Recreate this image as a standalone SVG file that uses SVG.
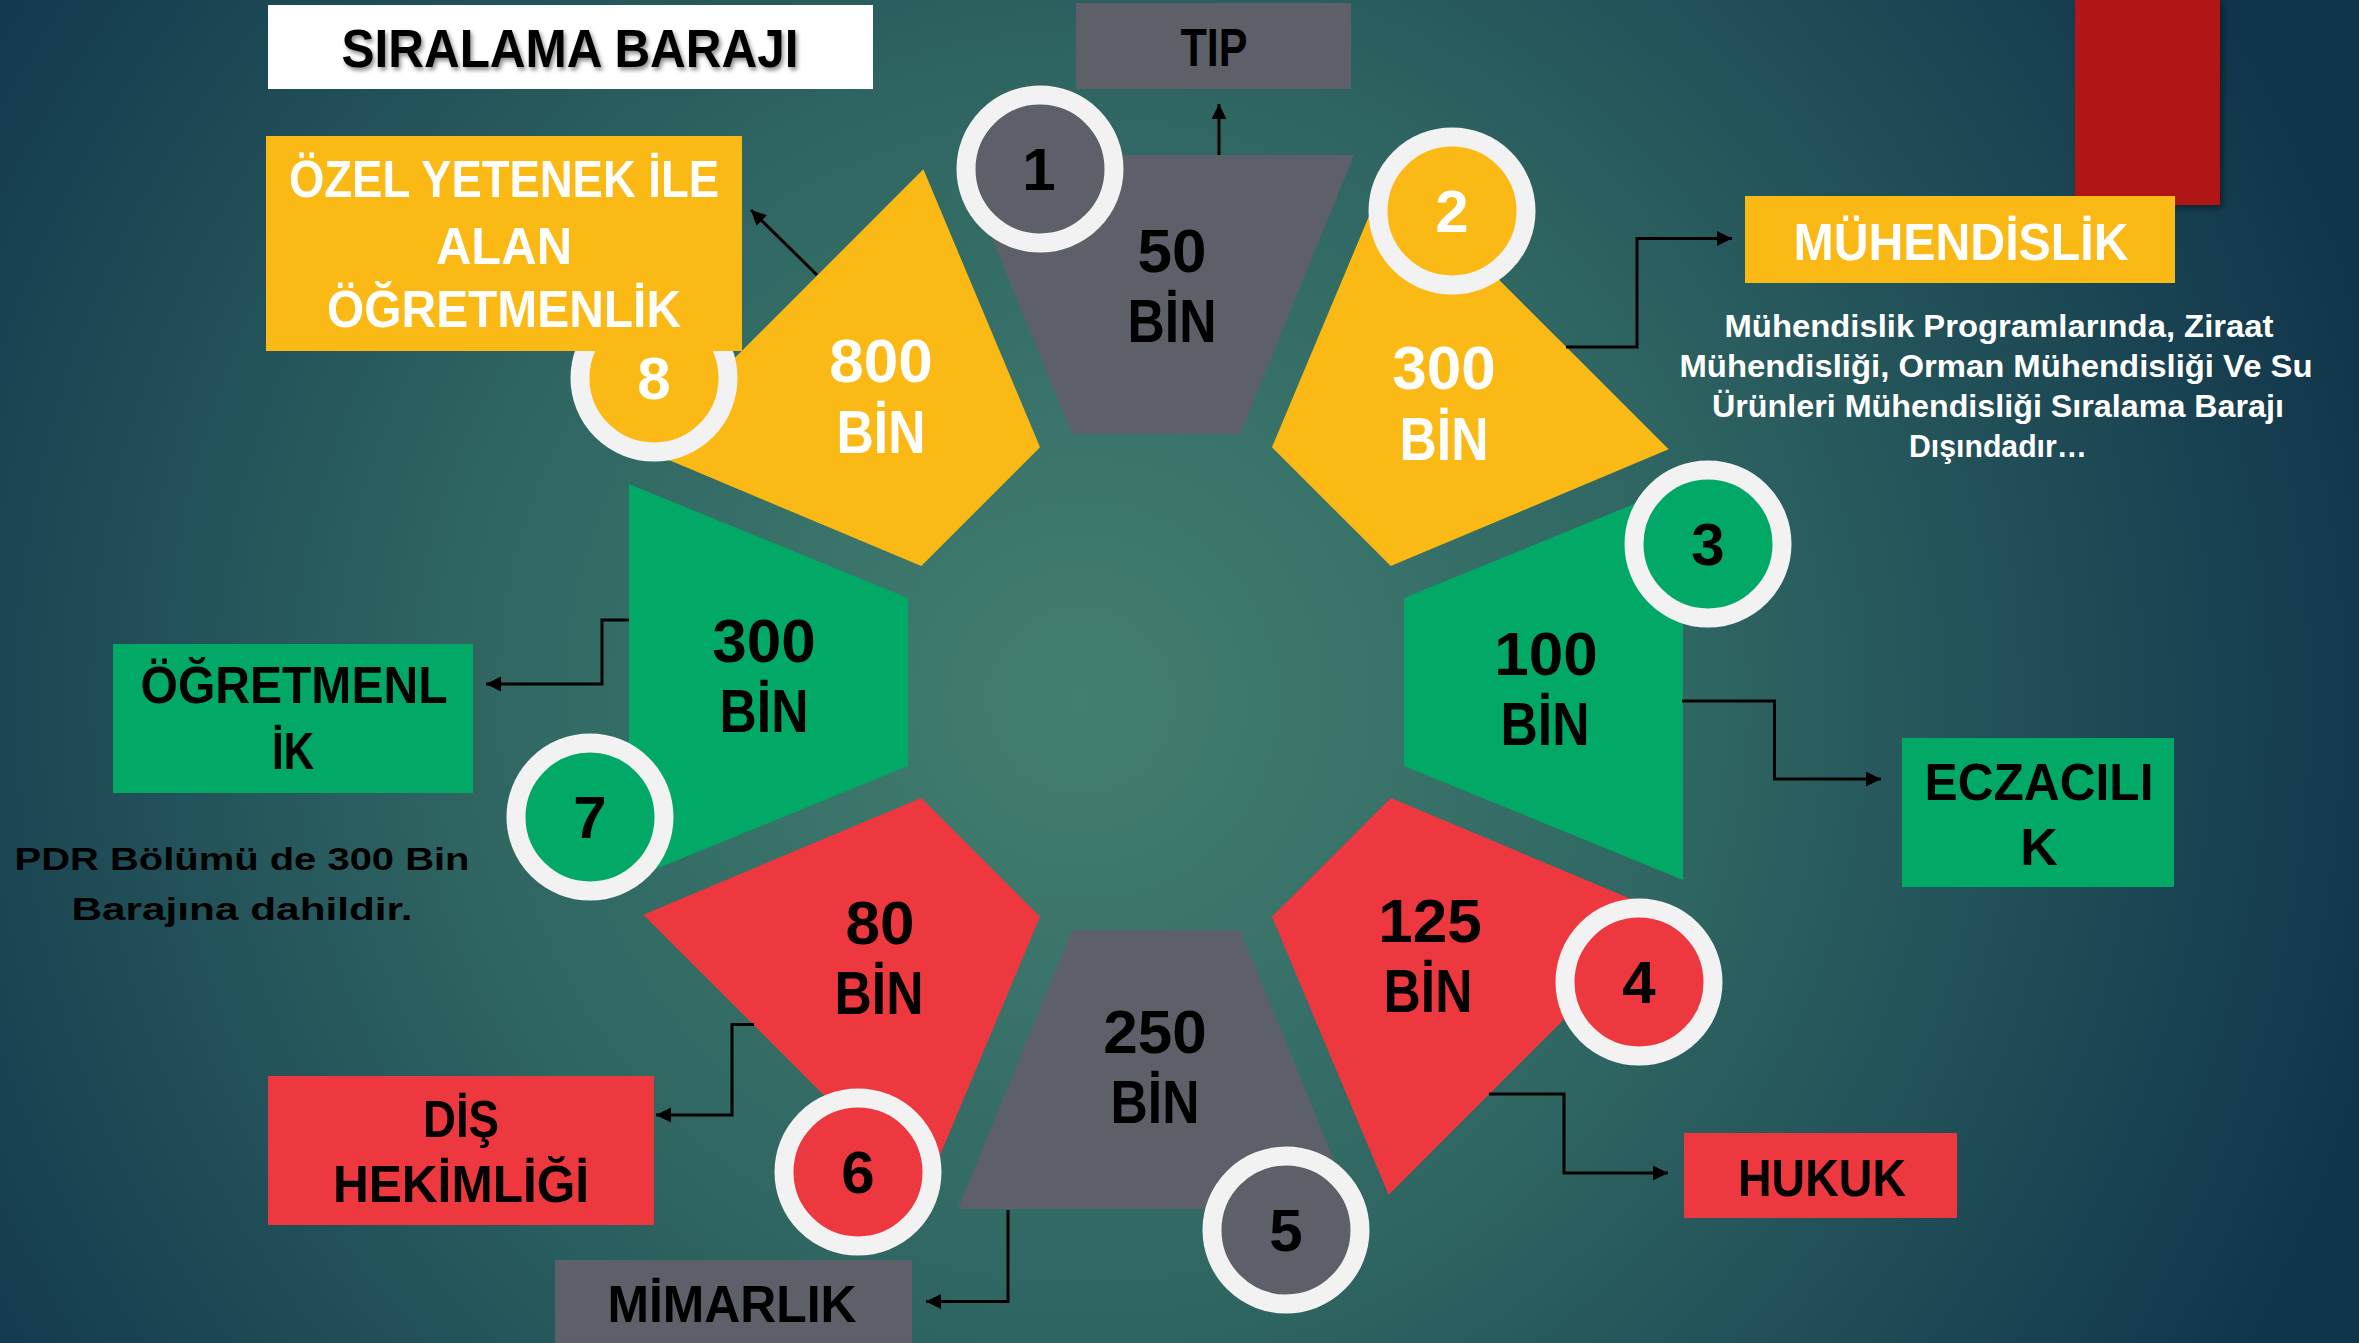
<svg xmlns="http://www.w3.org/2000/svg" width="2359" height="1343" viewBox="0 0 2359 1343">
<defs>
<radialGradient id="bg" gradientUnits="userSpaceOnUse" cx="1080" cy="700" r="1350">
<stop offset="0" stop-color="#437F70"/>
<stop offset="0.45" stop-color="#2F6662"/>
<stop offset="0.75" stop-color="#1E4B56"/>
<stop offset="1" stop-color="#10344A"/>
</radialGradient>
<filter id="shadow" x="-10%" y="-10%" width="130%" height="140%">
<feDropShadow dx="2" dy="3" stdDeviation="2" flood-color="#000" flood-opacity="0.45"/>
</filter>
<filter id="boxshadow" x="-10%" y="-10%" width="130%" height="130%">
<feDropShadow dx="3" dy="3" stdDeviation="3" flood-color="#000" flood-opacity="0.4"/>
</filter>
<polygon id="seg" points="-84,-248 84,-248 198,-527 -198,-527"/>
<marker id="arr" markerUnits="userSpaceOnUse" markerWidth="16" markerHeight="16" refX="15" refY="7.5" orient="auto">
<path d="M0,0 L15,7.5 L0,15 z" fill="#000"/>
</marker>
</defs>
<style>
text{font-family:"Liberation Sans",Arial,sans-serif;font-weight:bold;text-anchor:middle}
.big{font-size:62px}
.lab{font-size:52px}
.num{font-size:60px}
.desc{font-size:32px;fill:#fff}
.w{fill:#fff}
.k{fill:#000}
.gray{fill:#5E6069}
.yel{fill:#FBB916}
.grn{fill:#02A865}
.red{fill:#EE383F}
.ring{stroke:#F2F2F2;stroke-width:19}
.conn{fill:none;stroke:#000;stroke-width:3;marker-end:url(#arr)}
</style>
<rect width="2359" height="1343" fill="url(#bg)"/>

<g id="segments">
<use href="#seg" class="gray" transform="translate(1156,682)"/>
<use href="#seg" class="yel" transform="translate(1156,682) rotate(45)"/>
<use href="#seg" class="grn" transform="translate(1156,682) rotate(90)"/>
<use href="#seg" class="red" transform="translate(1156,682) rotate(135)"/>
<use href="#seg" class="gray" transform="translate(1156,682) rotate(180)"/>
<use href="#seg" class="red" transform="translate(1156,682) rotate(225)"/>
<use href="#seg" class="grn" transform="translate(1156,682) rotate(270)"/>
<use href="#seg" class="yel" transform="translate(1156,682) rotate(315)"/>
</g>

<g id="connectors">
<path class="conn" d="M1219,155 L1219,104"/>
<path class="conn" d="M817,275 L751,210"/>
<path class="conn" d="M1566,347 L1637,347 L1637,238.5 L1732,238.5"/>
<path class="conn" d="M1682,701 L1774.5,701 L1774.5,779 L1881,779"/>
<path class="conn" d="M1489,1094 L1564,1094 L1564,1173 L1668,1173"/>
<path class="conn" d="M629,620 L602,620 L602,684 L486,684"/>
<path class="conn" d="M754,1024.5 L732,1024.5 L732,1115 L656,1115"/>
<path class="conn" d="M1008,1210 L1008,1301.5 L926,1301.5"/>
</g>

<g id="seg-labels">
<g id="seg1"><text class="big k" x="1172" y="272">50</text><text class="big k" x="1172" y="342" textLength="89" lengthAdjust="spacingAndGlyphs">BİN</text></g>
<g id="seg2"><text class="big w" x="1444" y="389">300</text><text class="big w" x="1444" y="460" textLength="89" lengthAdjust="spacingAndGlyphs">BİN</text></g>
<g id="seg3"><text class="big k" x="1546" y="675">100</text><text class="big k" x="1545" y="745" textLength="89" lengthAdjust="spacingAndGlyphs">BİN</text></g>
<g id="seg4"><text class="big k" x="1430" y="942">125</text><text class="big k" x="1428" y="1012" textLength="89" lengthAdjust="spacingAndGlyphs">BİN</text></g>
<g id="seg5"><text class="big k" x="1155" y="1053">250</text><text class="big k" x="1155" y="1123" textLength="89" lengthAdjust="spacingAndGlyphs">BİN</text></g>
<g id="seg6"><text class="big k" x="880" y="944">80</text><text class="big k" x="879" y="1014" textLength="89" lengthAdjust="spacingAndGlyphs">BİN</text></g>
<g id="seg7"><text class="big k" x="764" y="662">300</text><text class="big k" x="764" y="732" textLength="89" lengthAdjust="spacingAndGlyphs">BİN</text></g>
<g id="seg8"><text class="big w" x="881" y="382">800</text><text class="big w" x="881" y="453" textLength="89" lengthAdjust="spacingAndGlyphs">BİN</text></g>
</g>

<g id="circle1"><circle class="ring gray" cx="1040" cy="169" r="74"/><text class="num k" x="1039" y="190">1</text></g>
<g id="circle2"><circle class="ring yel" cx="1452" cy="211" r="74"/><text class="num w" x="1452" y="232">2</text></g>
<g id="circle3"><circle class="ring grn" cx="1708" cy="544" r="74"/><text class="num k" x="1708" y="565">3</text></g>
<g id="circle4"><circle class="ring red" cx="1639" cy="982" r="74"/><text class="num k" x="1639" y="1003">4</text></g>
<g id="circle5"><circle class="ring gray" cx="1286" cy="1230" r="74"/><text class="num k" x="1286" y="1251">5</text></g>
<g id="circle6"><circle class="ring red" cx="858" cy="1172" r="74"/><text class="num k" x="858" y="1193">6</text></g>
<g id="circle7"><circle class="ring grn" cx="590" cy="817" r="74"/><text class="num k" x="590" y="838">7</text></g>
<g id="circle8"><circle class="ring yel" cx="654" cy="378" r="74"/><text class="num w" x="654" y="399">8</text></g>

<g id="title">
<rect x="268" y="5" width="605" height="84" fill="#fff"/>
<text x="570" y="67" font-size="54" class="k" filter="url(#shadow)" textLength="457" lengthAdjust="spacingAndGlyphs">SIRALAMA BARAJI</text>
</g>

<g id="redbar"><rect x="2075" y="0" width="145" height="205" fill="#B01615" filter="url(#boxshadow)"/></g>

<g id="tip">
<rect x="1076" y="3" width="275" height="86" class="gray"/>
<text class="k" font-size="53" x="1214" y="66" textLength="67" lengthAdjust="spacingAndGlyphs">TIP</text>
</g>

<g id="muhendislik">
<rect x="1745" y="196" width="430" height="87" class="yel"/>
<text class="lab w" x="1961" y="260" textLength="335" lengthAdjust="spacingAndGlyphs">MÜHENDİSLİK</text>
</g>

<g id="muh-note">
<text class="desc" x="1999" y="337" textLength="549" lengthAdjust="spacingAndGlyphs">Mühendislik Programlarında, Ziraat</text>
<text class="desc" x="1996" y="377" textLength="633" lengthAdjust="spacingAndGlyphs">Mühendisliği, Orman Mühendisliği Ve Su</text>
<text class="desc" x="1998" y="417" textLength="572" lengthAdjust="spacingAndGlyphs">Ürünleri Mühendisliği Sıralama Barajı</text>
<text class="desc" x="1998" y="457" textLength="178" lengthAdjust="spacingAndGlyphs">Dışındadır…</text>
</g>

<g id="ozel">
<rect x="266" y="136" width="476" height="215" class="yel"/>
<text class="lab w" x="504" y="197" textLength="430" lengthAdjust="spacingAndGlyphs">ÖZEL YETENEK İLE</text>
<text class="lab w" x="504" y="264" textLength="136" lengthAdjust="spacingAndGlyphs">ALAN</text>
<text class="lab w" x="504" y="327" textLength="354" lengthAdjust="spacingAndGlyphs">ÖĞRETMENLİK</text>
</g>

<g id="ogretmenlik">
<rect x="113" y="644" width="360" height="149" class="grn"/>
<text class="lab k" x="294" y="703" textLength="307" lengthAdjust="spacingAndGlyphs">ÖĞRETMENL</text>
<text class="lab k" x="293" y="769" textLength="42" lengthAdjust="spacingAndGlyphs">İK</text>
</g>

<g id="pdr-note">
<text class="k" font-size="32" x="242" y="870" textLength="455" lengthAdjust="spacingAndGlyphs">PDR Bölümü de 300 Bin</text>
<text class="k" font-size="32" x="242" y="920" textLength="341" lengthAdjust="spacingAndGlyphs">Barajına dahildir.</text>
</g>

<g id="eczacilik">
<rect x="1902" y="738" width="272" height="149" class="grn"/>
<text class="lab k" x="2039" y="800" textLength="229" lengthAdjust="spacingAndGlyphs">ECZACILI</text>
<text class="lab k" x="2039" y="865">K</text>
</g>

<g id="hukuk">
<rect x="1684" y="1133" width="273" height="85" class="red"/>
<text class="lab k" x="1822" y="1196" textLength="168" lengthAdjust="spacingAndGlyphs">HUKUK</text>
</g>

<g id="dis">
<rect x="268" y="1076" width="386" height="149" class="red"/>
<text class="lab k" x="461" y="1137" textLength="76" lengthAdjust="spacingAndGlyphs">DİŞ</text>
<text class="lab k" x="461" y="1202" textLength="256" lengthAdjust="spacingAndGlyphs">HEKİMLİĞİ</text>
</g>

<g id="mimarlik">
<rect x="555" y="1260" width="357" height="90" class="gray"/>
<text class="lab k" x="732" y="1322" textLength="249" lengthAdjust="spacingAndGlyphs">MİMARLIK</text>
</g>
</svg>
